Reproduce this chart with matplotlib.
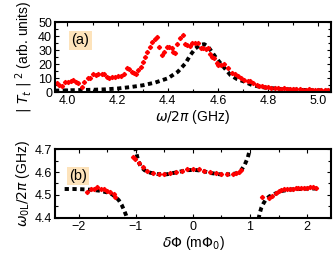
import numpy as np
import matplotlib.pyplot as plt
from matplotlib.ticker import AutoMinorLocator

plt.rcParams['font.family'] = ['Liberation Sans', 'DejaVu Sans']
plt.rcParams['mathtext.fontset'] = 'dejavusans'

# panel (a): transmission data (red) and model (black dashed)
freq_meas = [3.957, 3.966, 3.977, 3.990, 4.003, 4.014, 4.023, 4.032, 4.040, 4.056,
             4.067, 4.080, 4.091, 4.103, 4.113, 4.123, 4.136, 4.146, 4.156, 4.166,
             4.178, 4.189, 4.202, 4.213, 4.225, 4.236, 4.246, 4.258, 4.265, 4.273,
             4.282, 4.291, 4.299, 4.309, 4.318, 4.328, 4.338, 4.348, 4.358, 4.366,
             4.375, 4.384, 4.395, 4.405, 4.415, 4.421, 4.428, 4.437, 4.448, 4.459,
             4.468, 4.475, 4.488, 4.497, 4.508, 4.519, 4.532, 4.541, 4.550, 4.561,
             4.568, 4.574, 4.585, 4.594, 4.601, 4.611, 4.624, 4.638, 4.654, 4.667,
             4.678, 4.691, 4.704, 4.718, 4.728, 4.740, 4.754, 4.763, 4.775, 4.787,
             4.800, 4.812, 4.825, 4.837, 4.850, 4.862, 4.875, 4.887, 4.900, 4.912,
             4.925, 4.937, 4.950, 4.962, 4.975, 4.987, 5.000, 5.012, 5.025, 5.037]
T_meas = [6.2, 5.0, 4.3, 7.4, 7.4, 7.9, 8.3, 7.4, 6.2, 3.8,
          7.4, 9.8, 10.2, 12.6, 12.1, 12.9, 12.6, 12.9, 10.9, 10.2,
          10.9, 10.7, 11.2, 11.2, 12.6, 16.9, 16.2, 14.5, 13.3, 12.6,
          15.7, 18.1, 21.7, 25.2, 28.8, 32.4, 36.0, 37.9, 39.5, 32.4,
          26.4, 28.8, 32.4, 31.9, 31.2, 28.8, 27.6, 34.0, 38.8, 40.7,
          34.0, 33.6, 33.1, 34.8, 35.2, 34.8, 31.2, 31.7, 30.5, 31.2,
          26.9, 25.2, 24.0, 20.5, 19.3, 19.3, 19.8, 16.9, 13.3, 12.6,
          11.7, 10.2, 8.6, 8.1, 7.9, 6.6, 5.0, 4.5, 4.2, 3.5,
          3.3, 3.0, 2.6, 2.8, 2.4, 2.6, 2.2, 2.0, 2.2, 1.8,
          1.9, 1.7, 1.6, 1.8, 1.5, 1.6, 1.4, 1.5, 1.3, 1.4]

freq_fit = [3.95, 4.00, 4.05, 4.10, 4.15, 4.20, 4.25, 4.30, 4.35, 4.40, 4.44, 4.47,
            4.49, 4.51, 4.53, 4.545, 4.56, 4.575, 4.59, 4.61, 4.63, 4.65, 4.675, 4.705,
            4.735, 4.77, 4.80, 4.85, 4.90, 4.95, 5.00, 5.05]
T_fit = [1.0, 1.2, 1.4, 1.6, 1.9, 2.5, 3.5, 4.8, 6.8, 9.8, 14.5, 20.5,
         26.5, 31.2, 33.8, 34.2, 32.5, 28.8, 25.0, 20.5, 16.2, 12.0, 9.3, 7.4,
         5.0, 3.6, 2.9, 2.2, 1.7, 1.4, 1.2, 1.0]

# panel (b): resonance frequency vs flux offset
dphi_meas_l = [-1.85, -1.79, -1.73, -1.68, -1.62, -1.56, -1.50, -1.45, -1.39, -1.36]
w_meas_l = [4.514, 4.524, 4.528, 4.533, 4.524, 4.524, 4.519, 4.514, 4.504, 4.492]
dphi_meas_m = [-1.05, -1.01, -0.95, -0.88, -0.8, -0.7, -0.6, -0.5, -0.4, -0.3, -0.2,
               -0.1, 0.0, 0.1, 0.2, 0.3, 0.4, 0.5, 0.6, 0.7, 0.75, 0.8, 0.85]
w_meas_m = [4.667, 4.657, 4.638, 4.623, 4.603, 4.594, 4.591, 4.592, 4.594, 4.600, 4.606,
            4.611, 4.612, 4.611, 4.606, 4.600, 4.594, 4.591, 4.590, 4.592, 4.595, 4.600, 4.607]
dphi_meas_r = [1.21, 1.33, 1.38, 1.45, 1.5, 1.55, 1.6, 1.65, 1.7, 1.75, 1.8, 1.85,
               1.9, 1.95, 2.0, 2.05, 2.1, 2.15]
w_meas_r = [4.493, 4.488, 4.496, 4.508, 4.516, 4.522, 4.526, 4.527, 4.528, 4.528, 4.529,
            4.530, 4.530, 4.531, 4.532, 4.534, 4.533, 4.530]

dphi_fit_l = [-2.25, -2.1, -1.95, -1.8, -1.65, -1.5, -1.42, -1.35, -1.3, -1.25, -1.21, -1.17, -1.15]
w_fit_l = [4.526, 4.526, 4.525, 4.523, 4.519, 4.511, 4.503, 4.49, 4.477, 4.457, 4.435, 4.41, 4.395]
dphi_fit_m = [-1.02, -0.97, -0.92, -0.85, -0.75, -0.63, -0.46, -0.28, -0.11, 0.03, 0.15,
              0.3, 0.47, 0.64, 0.76, 0.85, 0.91, 0.96, 1.0]
w_fit_m = [4.71, 4.66, 4.625, 4.608, 4.597, 4.591, 4.590, 4.599, 4.608, 4.609, 4.606,
           4.596, 4.590, 4.590, 4.594, 4.609, 4.633, 4.662, 4.70]
dphi_fit_r = [1.15, 1.17, 1.2, 1.24, 1.28, 1.34, 1.45, 1.57, 1.72, 1.86, 2.03, 2.2]
w_fit_r = [4.395, 4.42, 4.445, 4.465, 4.481, 4.494, 4.507, 4.518, 4.524, 4.526, 4.528, 4.528]

fig = plt.figure(figsize=(3.35, 2.57), dpi=100)
ax1 = fig.add_axes([0.164, 0.642, 0.824, 0.272])
ax2 = fig.add_axes([0.164, 0.152, 0.824, 0.268])

dash = dict(color='black', lw=2.8, ls=(0, (1.1, 0.9)), dash_capstyle='butt')
red = dict(ls='none', marker='D', ms=2.1, color='red', mec='red')
box = dict(boxstyle='square,pad=0.15', fc='#fde3bb', ec='none')

ax1.plot(freq_fit, T_fit, **dash)
ax1.plot(freq_meas, T_meas, **red)
ax1.set_xlim(3.95, 5.05)
ax1.set_ylim(0, 50)
ax1.set_xticks([4.0, 4.2, 4.4, 4.6, 4.8, 5.0])
ax1.set_yticks([0, 10, 20, 30, 40, 50])
ax1.set_xlabel(r'$\omega/2\pi$ (GHz)', fontsize=10, labelpad=1)
ax1.set_ylabel(r'$|\ T_t\ |^{\ 2}$ (arb. units)', fontsize=10, labelpad=2)
ax1.text(0.06, 0.68, '(a)', transform=ax1.transAxes, fontsize=10.5, bbox=box)

ax2.plot(dphi_fit_l, w_fit_l, **dash)
ax2.plot(dphi_fit_m, w_fit_m, **dash)
ax2.plot(dphi_fit_r, w_fit_r, **dash)
ax2.plot(dphi_meas_l, w_meas_l, **red)
ax2.plot(dphi_meas_m, w_meas_m, **red)
ax2.plot(dphi_meas_r, w_meas_r, **red)
ax2.set_xlim(-2.42, 2.42)
ax2.set_ylim(4.4, 4.7)
ax2.set_xticks([-2, -1, 0, 1, 2])
ax2.set_yticks([4.4, 4.5, 4.6, 4.7])
ax2.set_xlabel(r'$\delta\Phi$ (m$\Phi_0$)', fontsize=10, labelpad=1)
ax2.set_ylabel(r'$\omega_{0\mathrm{L}}/2\pi$ (GHz)', fontsize=10, labelpad=2)
ax2.text(0.05, 0.55, '(b)', transform=ax2.transAxes, fontsize=10.5, bbox=box)

for ax in (ax1, ax2):
    ax.xaxis.set_minor_locator(AutoMinorLocator(2))
    ax.yaxis.set_minor_locator(AutoMinorLocator(2))
    ax.tick_params(which='both', direction='in', top=True, right=True, labelsize=9, pad=2)
    ax.tick_params(which='major', length=3, width=0.8)
    ax.tick_params(which='minor', length=2, width=0.8)
    for s in ax.spines.values():
        s.set_linewidth(1.5)

fig.savefig('out.png', dpi=100)
